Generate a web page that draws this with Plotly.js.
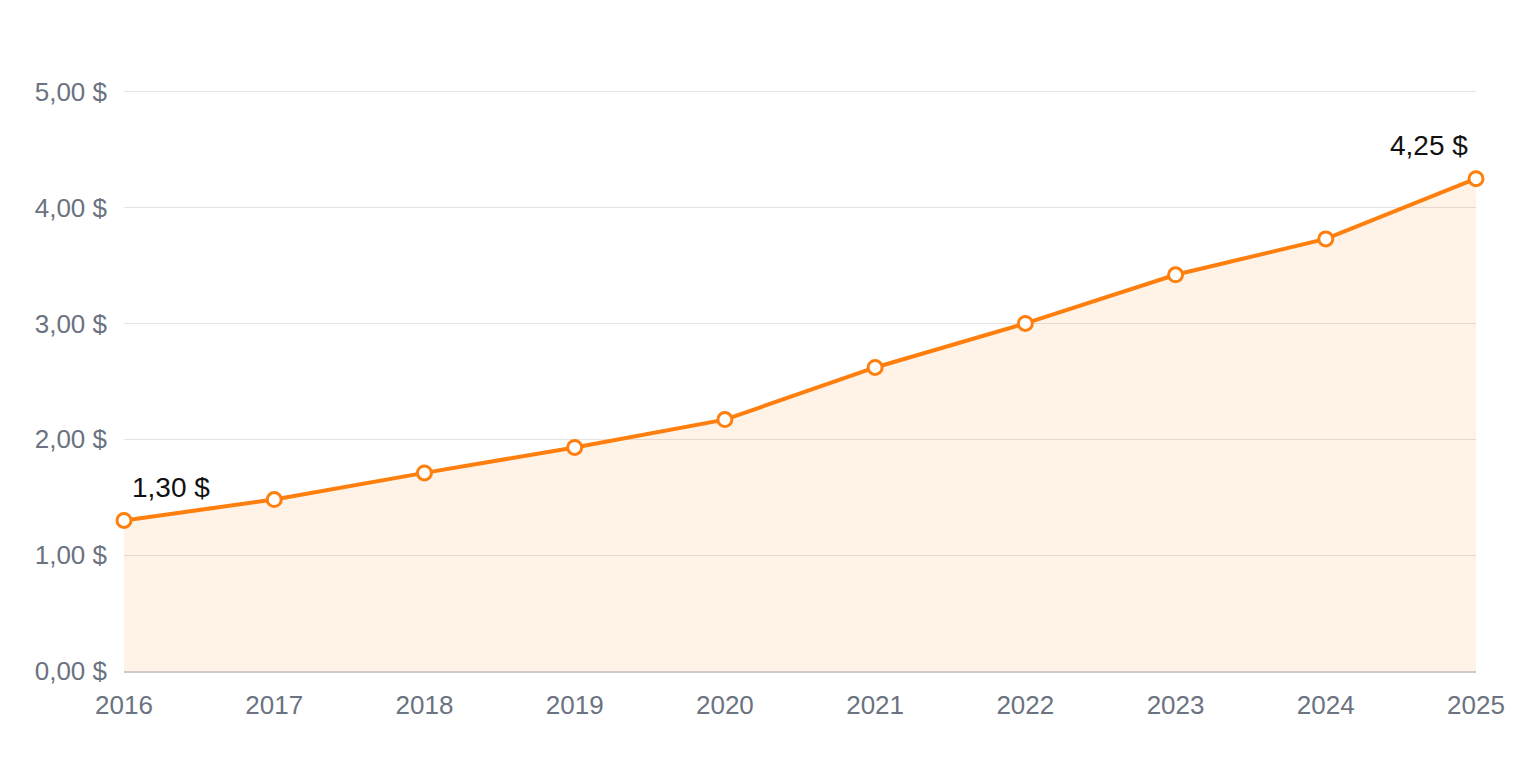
<!DOCTYPE html>
<html>
<head>
<meta charset="utf-8">
<script src="https://cdn.plot.ly/plotly-3.0.1.min.js"></script>
<style>
  html, body { margin: 0; padding: 0; background: #fff; }
  #chart { width: 1520px; height: 760px; }
</style>
</head>
<body>
<div id="chart"></div>
<script>
(function () {
    'use strict';

    const years = [2016, 2017, 2018, 2019, 2020, 2021, 2022, 2023, 2024, 2025];
    const prices = [1.30, 1.48, 1.71, 1.93, 2.17, 2.62, 3.00, 3.42, 3.73, 4.25];
    const yTicks = [0, 1, 2, 3, 4, 5];
    const yTickLabels = ['0,00 $', '1,00 $', '2,00 $', '3,00 $', '4,00 $', '5,00 $'];

    const orange = '#ff7f0e';
    const fontFam = 'Liberation Sans, Arial, sans-serif';
    const fmt = v => v.toFixed(2).replace('.', ',') + ' $';

    const trace = {
        x: years,
        y: prices,
        type: 'scatter',
        mode: 'lines+markers',
        fill: 'tozeroy',
        fillcolor: 'rgba(255,127,14,0.1)',
        cliponaxis: false,
        line: { color: orange, width: 4 },
        marker: { size: 14, color: '#ffffff', line: { color: orange, width: 3 } },
        hoverinfo: 'skip'
    };

    // labels on first and last point only
    const first = 0, last = years.length - 1;
    const annotations = [
        { x: years[first], y: prices[first], text: fmt(prices[first]), xanchor: 'left', xshift: 6, yshift: 33 },
        { x: years[last], y: prices[last], text: fmt(prices[last]), xanchor: 'right', xshift: -6, yshift: 33 }
    ].map(a => Object.assign(a, {
        showarrow: false,
        yanchor: 'middle',
        font: { family: fontFam, size: 28, color: '#111111' }
    }));

    const layout = {
        width: 1520,
        height: 760,
        margin: { l: 124, r: 44, t: 57, b: 89 },
        paper_bgcolor: '#ffffff',
        plot_bgcolor: '#ffffff',
        showlegend: false,
        font: { family: fontFam, size: 26, color: '#6b7280' },
        xaxis: {
            range: [2016, 2025],
            tickvals: years,
            ticktext: years.map(String),
            showgrid: false,
            zeroline: false,
            showline: true,
            linecolor: '#cfcac5',
            linewidth: 2,
            ticks: '',
            ticklabelstandoff: 10,
            tickfont: { size: 26, color: '#6b7280' },
            fixedrange: true
        },
        yaxis: {
            range: [0, 5.3],
            tickvals: yTicks,
            ticktext: yTickLabels,
            showgrid: true,
            gridcolor: '#e3e3e3',
            gridwidth: 1,
            zeroline: false,
            showline: false,
            ticks: '',
            ticklabelstandoff: 16,
            tickfont: { size: 26, color: '#6b7280' },
            fixedrange: true
        },
        annotations: annotations
    };

    window.Plotly.newPlot('chart', [trace], layout, { displayModeBar: false, staticPlot: true });
}());
</script>
</body>
</html>
